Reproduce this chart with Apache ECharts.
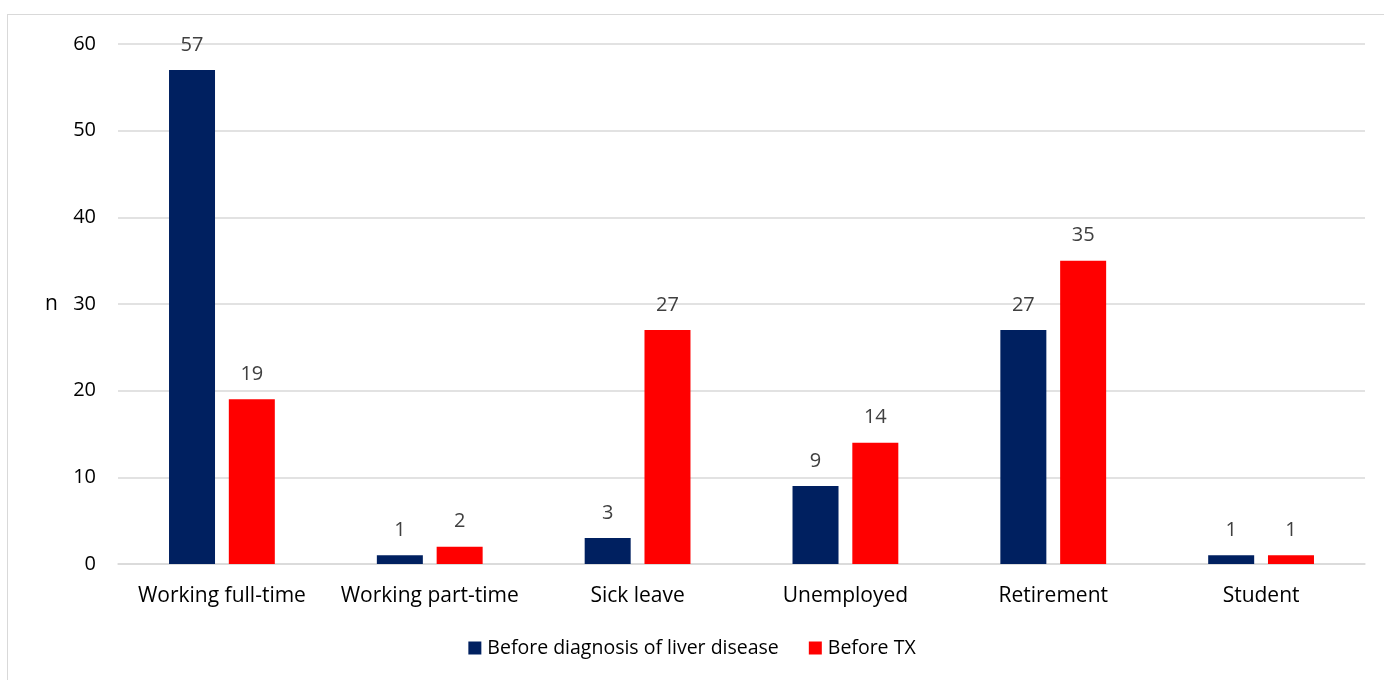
<!DOCTYPE html>
<html>
<head>
<meta charset="utf-8">
<script src="https://cdn.jsdelivr.net/npm/echarts@6/dist/echarts.min.js"></script>
<style>
  html, body { margin: 0; padding: 0; background: #fff; }
  #frame { position: absolute; left: 7px; top: 14px; width: 1400px; height: 700px; border: 1px solid #d9d9d9; box-sizing: border-box; }
  #chart { position: absolute; left: 0; top: 0; width: 1384px; height: 680px; }
</style>
</head>
<body>
<div id="frame"></div>
<div id="chart"></div>
<script>
// Employment status counts
const categories = ['Working full-time', 'Working part-time', 'Sick leave', 'Unemployed', 'Retirement', 'Student'];
const beforeDiagnosis = [57, 1, 3, 9, 27, 1];
const beforeTX = [19, 2, 27, 14, 35, 1];
const seriesNames = ['Before diagnosis of liver disease', 'Before TX'];

const font = '"Open Sans", "Noto Sans", sans-serif';
const chart = echarts.init(document.getElementById('chart'));

const labelStyle = { show: true, position: 'top', distance: 15, color: '#404040', fontSize: 20, fontFamily: font };

chart.setOption({
  animation: false,
  textStyle: { fontFamily: font },
  grid: { left: 118, right: 19, top: 44, bottom: 116, containLabel: false },
  legend: {
    top: 633,
    left: 'center',
    itemWidth: 13,
    itemHeight: 13,
    itemGap: 30,
    icon: 'rect',
    textStyle: { fontSize: 19.5, color: '#000', fontFamily: font, padding: [0, 0, 0, 1] },
    data: seriesNames
  },
  xAxis: {
    type: 'category',
    data: categories,
    axisLine: { lineStyle: { color: '#d9d9d9', width: 1.5 } },
    axisTick: { show: false },
    axisLabel: { color: '#000', fontSize: 21, margin: 22, interval: 0, fontFamily: font }
  },
  yAxis: {
    type: 'value',
    min: 0, max: 60, interval: 10,
    name: 'n',
    nameLocation: 'middle',
    nameRotate: 0,
    nameGap: 60,
    nameTextStyle: { color: '#000', fontSize: 21, fontFamily: font },
    axisLine: { show: false },
    axisTick: { show: false },
    axisLabel: { color: '#000', fontSize: 20, margin: 22, fontFamily: font },
    splitLine: { lineStyle: { color: '#d9d9d9', width: 1.5 } }
  },
  series: [
    {
      name: seriesNames[0], type: 'bar', data: beforeDiagnosis,
      barWidth: 46, barGap: '30%',
      itemStyle: { color: '#002060' },
      label: labelStyle
    },
    {
      name: seriesNames[1], type: 'bar', data: beforeTX,
      barWidth: 46,
      itemStyle: { color: '#ff0000' },
      label: labelStyle
    }
  ]
});
</script>
</body>
</html>
